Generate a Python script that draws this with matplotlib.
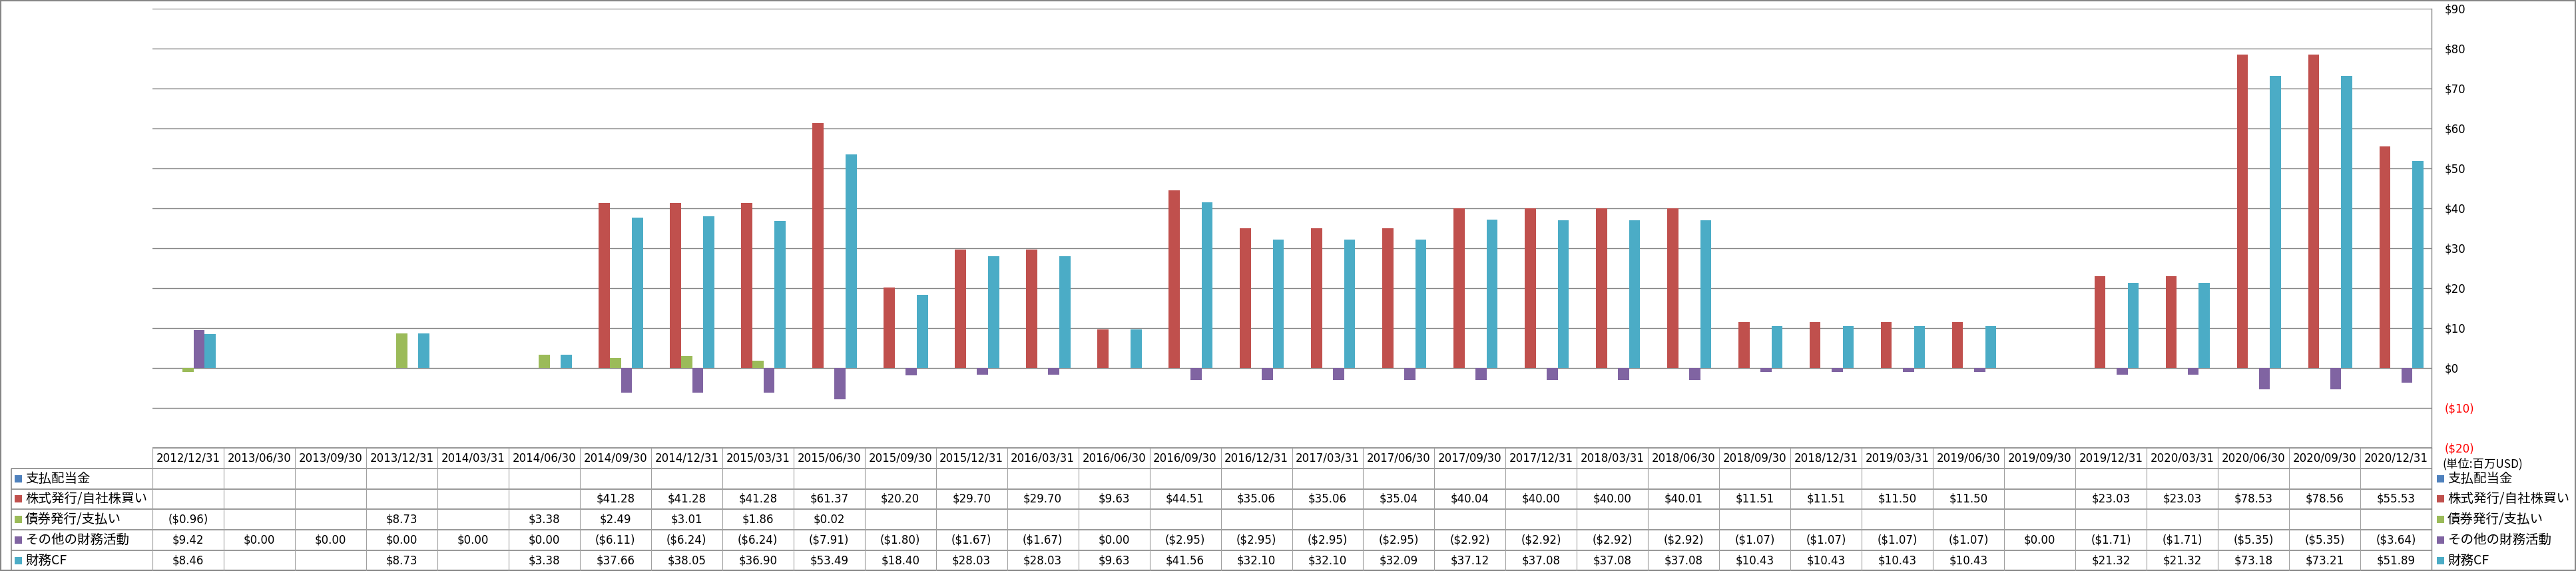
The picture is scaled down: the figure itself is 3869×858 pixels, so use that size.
import numpy as np
import matplotlib
matplotlib.use("Agg")
import matplotlib.pyplot as plt
from matplotlib.patches import Rectangle
from matplotlib.transforms import blended_transform_factory

dates = ["2012/12/31", "2013/06/30", "2013/09/30", "2013/12/31", "2014/03/31", "2014/06/30",
         "2014/09/30", "2014/12/31", "2015/03/31", "2015/06/30", "2015/09/30", "2015/12/31",
         "2016/03/31", "2016/06/30", "2016/09/30", "2016/12/31", "2017/03/31", "2017/06/30",
         "2017/09/30", "2017/12/31", "2018/03/31", "2018/06/30", "2018/09/30", "2018/12/31",
         "2019/03/31", "2019/06/30", "2019/09/30", "2019/12/31", "2020/03/31", "2020/06/30",
         "2020/09/30", "2020/12/31"]

dividends = [None] * 32
stock = [None, None, None, None, None, None, 41.28, 41.28, 41.28, 61.37,
         20.20, 29.70, 29.70, 9.63, 44.51, 35.06, 35.06, 35.04, 40.04, 40.00, 40.00, 40.01,
         11.51, 11.51, 11.50, 11.50, None, 23.03, 23.03, 78.53, 78.56, 55.53]
bonds = [-0.96, None, None, 8.73, None, 3.38, 2.49, 3.01, 1.86, 0.02] + [None] * 22
other = [9.42, 0.00, 0.00, 0.00, 0.00, 0.00, -6.11, -6.24, -6.24, -7.91,
         -1.80, -1.67, -1.67, 0.00, -2.95, -2.95, -2.95, -2.95, -2.92, -2.92, -2.92, -2.92,
         -1.07, -1.07, -1.07, -1.07, 0.00, -1.71, -1.71, -5.35, -5.35, -3.64]
fin_cf = [8.46, None, None, 8.73, None, 3.38, 37.66, 38.05, 36.90, 53.49,
          18.40, 28.03, 28.03, 9.63, 41.56, 32.10, 32.10, 32.09, 37.12, 37.08, 37.08, 37.08,
          10.43, 10.43, 10.43, 10.43, None, 21.32, 21.32, 73.18, 73.21, 51.89]

names = ["支払配当金", "株式発行/自社株買い", "債券発行/支払い", "その他の財務活動", "財務CF"]
colors = ["#4F81BD", "#C0504D", "#9BBB59", "#8064A2", "#4BACC6"]
y_ticks = list(range(-20, 91, 10))
unit_label = "(単位:百万USD)"

CJK = ["Noto Sans CJK JP", "DejaVu Sans"]
GRID = "#868686"


def fmt_value(v):
    if v is None:
        return ""
    if v < 0:
        return "(${:.2f})".format(-v)
    return "${:.2f}".format(v)


def fmt_tick(v):
    if v < 0:
        return "(${:.0f})".format(-v)
    return "${:.0f}".format(v)


W, H = 3869, 858
fig = plt.figure(figsize=(W / 100, H / 100), dpi=100)

# overlay in pixel coordinates for the table, legend and border
ov = fig.add_axes([0, 0, 1, 1])
ov.set_xlim(0, W)
ov.set_ylim(H, 0)
ov.axis("off")

plot_l, plot_r, plot_t, plot_b = 229, 3652, 13, 673
ax = fig.add_axes([plot_l / W, 1 - plot_b / H, (plot_r - plot_l) / W, (plot_b - plot_t) / H])
ax.patch.set_alpha(0)

series = [dividends, stock, bonds, other, fin_cf]
bw = 0.155
for k, (vals, c) in enumerate(zip(series, colors)):
    idx = [i for i, v in enumerate(vals) if v is not None]
    ax.bar(np.array(idx, dtype=float) + (k - 2) * bw, [vals[i] for i in idx], bw,
           color=c, zorder=3, linewidth=0)

ax.set_xlim(-0.5, len(dates) - 0.5)
ax.set_ylim(-20, 90)
ax.set_xticks([])
ax.set_yticks(y_ticks)
ax.set_yticklabels([fmt_tick(v) for v in y_ticks])
ax.yaxis.tick_right()
ax.tick_params(axis="y", length=0, pad=14, labelsize=12)
for lab, v in zip(ax.get_yticklabels(), y_ticks):
    if v < 0:
        lab.set_color("red")
ax.grid(axis="y", color=GRID, lw=1.0, zorder=0)
for s in ["left", "top", "bottom"]:
    ax.spines[s].set_visible(False)
ax.spines["right"].set_color(GRID)
ax.spines["right"].set_linewidth(1.0)

# data table
blend = blended_transform_factory(ax.transData, ov.transData)
row_top = plot_b
row_h = 30.75
rows_y = [row_top + r * row_h for r in range(len(series) + 2)]
label_x0 = 17

ov.hlines(rows_y[0], plot_l, plot_r, color=GRID, lw=1.2)
ov.hlines(rows_y[1:], label_x0, plot_r, color=GRID, lw=1.2)
ov.vlines(np.arange(-0.5, len(dates)), rows_y[0], rows_y[-1], color="#a0a0a0", lw=0.8,
          transform=blend)
ov.vlines(label_x0, rows_y[1], rows_y[-1], color=GRID, lw=1.2)
ov.vlines(plot_r, rows_y[0], rows_y[-1], color=GRID, lw=1.0)

def mid(r):
    return (rows_y[r] + rows_y[r + 1]) / 2

for i, d in enumerate(dates):
    ov.text(i, mid(0), d, transform=blend, ha="center", va="center", fontsize=12)
for r, vals in enumerate(series):
    for i, v in enumerate(vals):
        if v is not None:
            ov.text(i, mid(r + 1), fmt_value(v), transform=blend, ha="center",
                    va="center", fontsize=12)

# row labels and legend on the right
for r, (name, c) in enumerate(zip(names, colors)):
    y = mid(r + 1)
    ov.add_patch(Rectangle((22, y - 5.5), 11, 11, color=c, lw=0))
    ov.text(38, y, name, ha="left", va="center", fontsize=14, family=CJK)
    ov.add_patch(Rectangle((3660, y - 5.5), 11, 11, color=c, lw=0))
    ov.text(3676, y, name, ha="left", va="center", fontsize=14, family=CJK)

ov.text(3668, 697, unit_label, ha="left", va="center", fontsize=12.5, family=CJK)

ov.add_patch(Rectangle((1, 1), W - 2, H - 2, fill=False, ec=GRID, lw=1.5))

fig.savefig("out.png", dpi=100)
